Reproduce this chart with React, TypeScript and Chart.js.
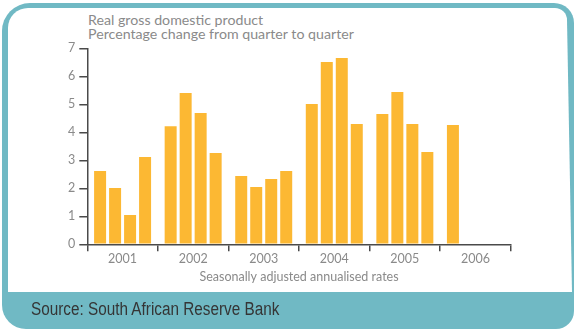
import React, { useEffect, useRef } from 'react';
import { Chart, registerables } from 'chart.js';

Chart.register(...registerables);

// ---- data ----
const years = ['2001', '2002', '2003', '2004', '2005', '2006'];
const q1 = [2.62, 4.22, 2.44, 5.01, 4.65, 4.26];
const q2 = [2.01, 5.4, 2.05, 6.51, 5.44, null];
const q3 = [1.05, 4.69, 2.33, 6.65, 4.3, null];
const q4 = [3.12, 3.26, 2.62, 4.3, 3.3, null];
const yMin = 0;
const yMax = 7;
const yStep = 1;

const titleLines = ['Real gross domestic product', 'Percentage change from quarter to quarter'];
const xAxisTitle = 'Seasonally adjusted annualised rates';
const sourceText = 'Source: South African Reserve Bank';

const BAR = '#fcb833';
const AXIS = '#4a4a4a';
const TEXT = '#8a8a8a';
const TEAL = '#70b9c4';
const FONT = 'Lato, "Open Sans", sans-serif';

export default function App() {
  const ref = useRef<HTMLCanvasElement | null>(null);

  useEffect(() => {
    if (!ref.current) return;
    const mk = (label: string, data: (number | null)[]) => ({
      label,
      data,
      backgroundColor: BAR,
      borderWidth: 0,
      categoryPercentage: 0.85,
      barPercentage: 0.8,
    });
    const chart = new Chart(ref.current, {
      type: 'bar',
      data: {
        labels: years,
        datasets: [mk('Q1', q1), mk('Q2', q2), mk('Q3', q3), mk('Q4', q4)],
      },
      options: {
        animation: false,
        responsive: false,
        maintainAspectRatio: false,
        layout: { padding: { left: 0, top: 48.3, right: 63.3, bottom: 45.8 } },
        plugins: { legend: { display: false }, tooltip: { enabled: false } },
        scales: {
          x: {
            type: 'category',
            offset: true,
            grid: {
              offset: true,
              drawOnChartArea: false,
              drawTicks: true,
              tickLength: 7,
              lineWidth: 1.5,
              color: (c: any) => (c.index >= years.length ? 'rgba(0,0,0,0)' : AXIS),
            },
            border: { display: true, color: AXIS, width: 1.5 },
            ticks: {
              color: TEXT,
              font: { family: FONT, size: 12.5 },
              padding: 0,
              maxRotation: 0,
              autoSkip: false,
            },
            title: {
              display: true,
              text: xAxisTitle,
              color: TEXT,
              font: { family: FONT, size: 12.5 },
              padding: 0,
            },
            afterFit: (s: any) => {
              s.height = 39.9;
            },
          },
          y: {
            min: yMin,
            max: yMax,
            ticks: {
              stepSize: yStep,
              color: TEXT,
              font: { family: FONT, size: 12.5 },
              padding: 4,
            },
            grid: { drawOnChartArea: false, tickLength: 8, lineWidth: 1.5, color: AXIS },
            border: { display: true, color: AXIS, width: 1.5 },
            afterFit: (s: any) => {
              s.width = 87.3;
            },
          },
        },
      },
    });
    return () => chart.destroy();
  }, []);

  return (
    <div style={{ position: 'fixed', left: 0, top: 0, width: 574, height: 330, overflow: 'hidden', background: '#fff' }}>
      <div
        style={{
          position: 'absolute',
          left: 1.5,
          top: 3,
          width: 572.5,
          height: 326,
          background: TEAL,
          borderRadius: '28px 20px 18px 24px',
        }}
      />
      <div
        style={{
          position: 'absolute',
          left: 8,
          top: 8,
          width: 559,
          height: 284,
          background: '#fff',
          borderRadius: '20px 12px 0 0',
        }}
      />
      <div
        style={{
          position: 'absolute',
          left: 563,
          top: 20,
          width: 9,
          height: 272,
          background: '#fff',
          clipPath: 'polygon(0 0, 4px 0, 9px 100%, 0 100%)',
        }}
      />
      {titleLines.map((t, i) => (
        <div
          key={i}
          style={{
            position: 'absolute',
            left: 88,
            top: 12.6 + i * 14,
            fontFamily: FONT,
            fontSize: 14.2,
            lineHeight: '14px',
            color: TEXT,
            whiteSpace: 'nowrap',
          }}
        >
          {t}
        </div>
      ))}
      <canvas ref={ref} width={574} height={330} style={{ position: 'absolute', left: 0, top: 0, width: 574, height: 330 }} />
      <div
        style={{
          position: 'absolute',
          left: 31,
          top: 298.8,
          fontFamily: '"Liberation Sans", Arial, sans-serif',
          fontSize: 18,
          lineHeight: '20px',
          color: '#353535',
          whiteSpace: 'nowrap',
          transform: 'scaleX(0.85)',
          transformOrigin: '0 0',
        }}
      >
        {sourceText}
      </div>
    </div>
  );
}
